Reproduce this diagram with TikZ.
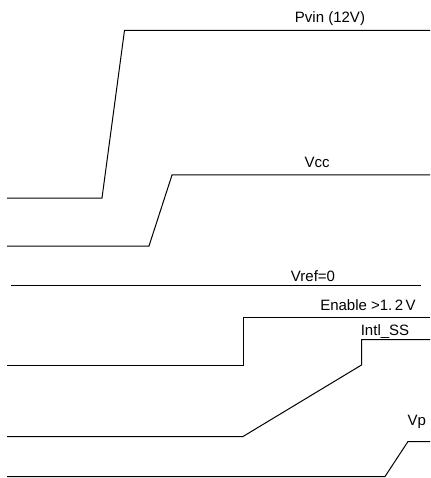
\documentclass[tikz,border=0pt]{standalone}
\usepackage{fontspec}
\setmainfont{Liberation Sans}
\begin{document}
\begin{tikzpicture}[x=1pt,y=-1pt,
  wave/.style={line width=1pt,line join=miter},
  lbl/.style={anchor=base,inner sep=0pt,font=\fontsize{15}{18}\selectfont}]
\useasboundingbox (0,0) rectangle (430,478);
% Pvin
\draw[wave] (7,198) -- (102,198) -- (124.5,30.3) -- (430,30.3);
\node[lbl] (pvin) at (330,23) {Pvin (12V)};
% Vcc
\draw[wave] (7,246) -- (149,246) -- (172,175) -- (430,175);
\node[lbl] (vcc) at (317,167.5) {Vcc};
% Vref
\draw[wave] (11,285.5) -- (421,285.5);
\node[lbl] (vref) at (313,281) {Vref=0};
% Enable
\draw[wave] (7,365.5) -- (243,365.5) -- (243,317.5) -- (430,317.5);
\node[lbl] (en) at (368,310) {Enable >1.\hspace{2.5pt}2\hspace{2.5pt}V};
% Intl_SS
\draw[wave] (7,436.5) -- (243,436.5) -- (361.5,365) -- (361.5,339.5) -- (430,339.5);
\node[lbl] (ss) at (385,335) {Intl\_SS};
% Vp
\draw[wave] (7,476.5) -- (385,476.5) -- (408,441.5) -- (430,441.5);
\node[lbl] (vp) at (416.7,425) {Vp};
\end{tikzpicture}
\end{document}
